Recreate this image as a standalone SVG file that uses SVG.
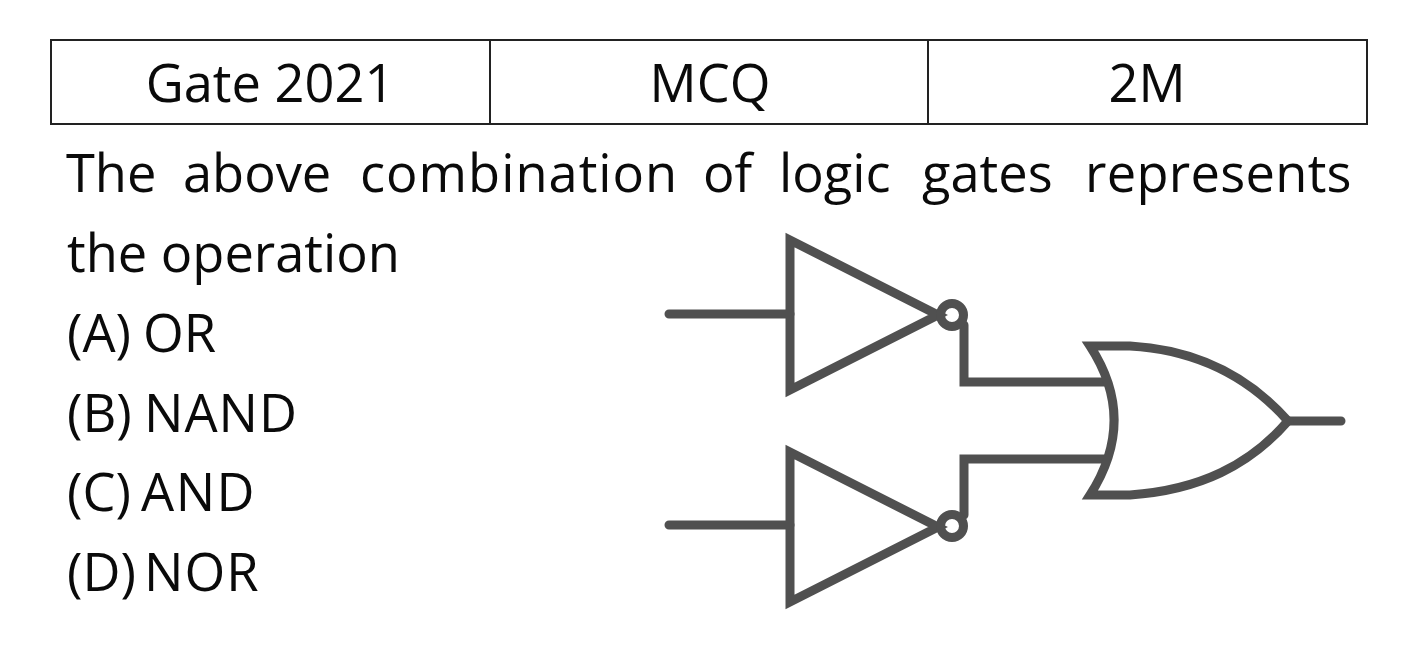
<svg xmlns="http://www.w3.org/2000/svg" width="1418" height="661" viewBox="0 0 1418 661">
<style>
text{font-family:"Open Sans","Noto Sans","Liberation Sans",sans-serif;font-size:52.4px;fill:#0a0a0a}
.c{text-anchor:middle}
.g{fill:none;stroke:#505050;stroke-width:9;stroke-linecap:round;stroke-linejoin:miter}
</style>
<rect width="1418" height="661" fill="#fff"/>
<g id="table" fill="none" stroke="#222" stroke-width="2"><rect x="51" y="40" width="1316" height="84"/><path d="M490 40V124M928 40V124"/></g>
<g id="cells"><text class="c" x="270" y="102">Gate 2021</text><text class="c" x="710" y="102">MCQ</text><text class="c" x="1147" y="102">2M</text></g>
<g id="question">
<text y="192"><tspan x="66">The </tspan><tspan x="183">above </tspan><tspan x="360" letter-spacing="1">combination </tspan><tspan x="703">of </tspan><tspan x="779">logic </tspan><tspan x="922">gates </tspan><tspan x="1085" letter-spacing="0.3">represents</tspan></text>
<text x="67" y="272">the operation</text>
<text y="352"><tspan x="67">(A) </tspan><tspan x="143">OR</tspan></text>
<text y="432"><tspan x="67">(B) </tspan><tspan x="144" letter-spacing="1">NAND</tspan></text>
<text y="511"><tspan x="67">(C)</tspan><tspan x="141" letter-spacing="1.5">AND</tspan></text>
<text y="591"><tspan x="67">(D)</tspan><tspan x="144" letter-spacing="1">NOR</tspan></text>
</g>
<g id="connectors" class="g">
<path d="M669 314H790M669 525H790M964 325V382H1105M964 515V459H1105M1288 421H1341"/>
</g>
<g id="not1"><path class="g" d="M790 240V390L938 315Z"/><circle class="g" cx="952" cy="315" r="11.5"/></g>
<g id="not2"><path class="g" d="M790 452V602L938 527Z"/><circle class="g" cx="952" cy="526" r="11.5"/></g>
<g id="or"><path class="g" d="M1090 346H1130C1200 350 1250 378 1288 421C1250 465 1200 490 1130 495H1090C1122 445 1122 395 1090 346Z"/></g>
</svg>
